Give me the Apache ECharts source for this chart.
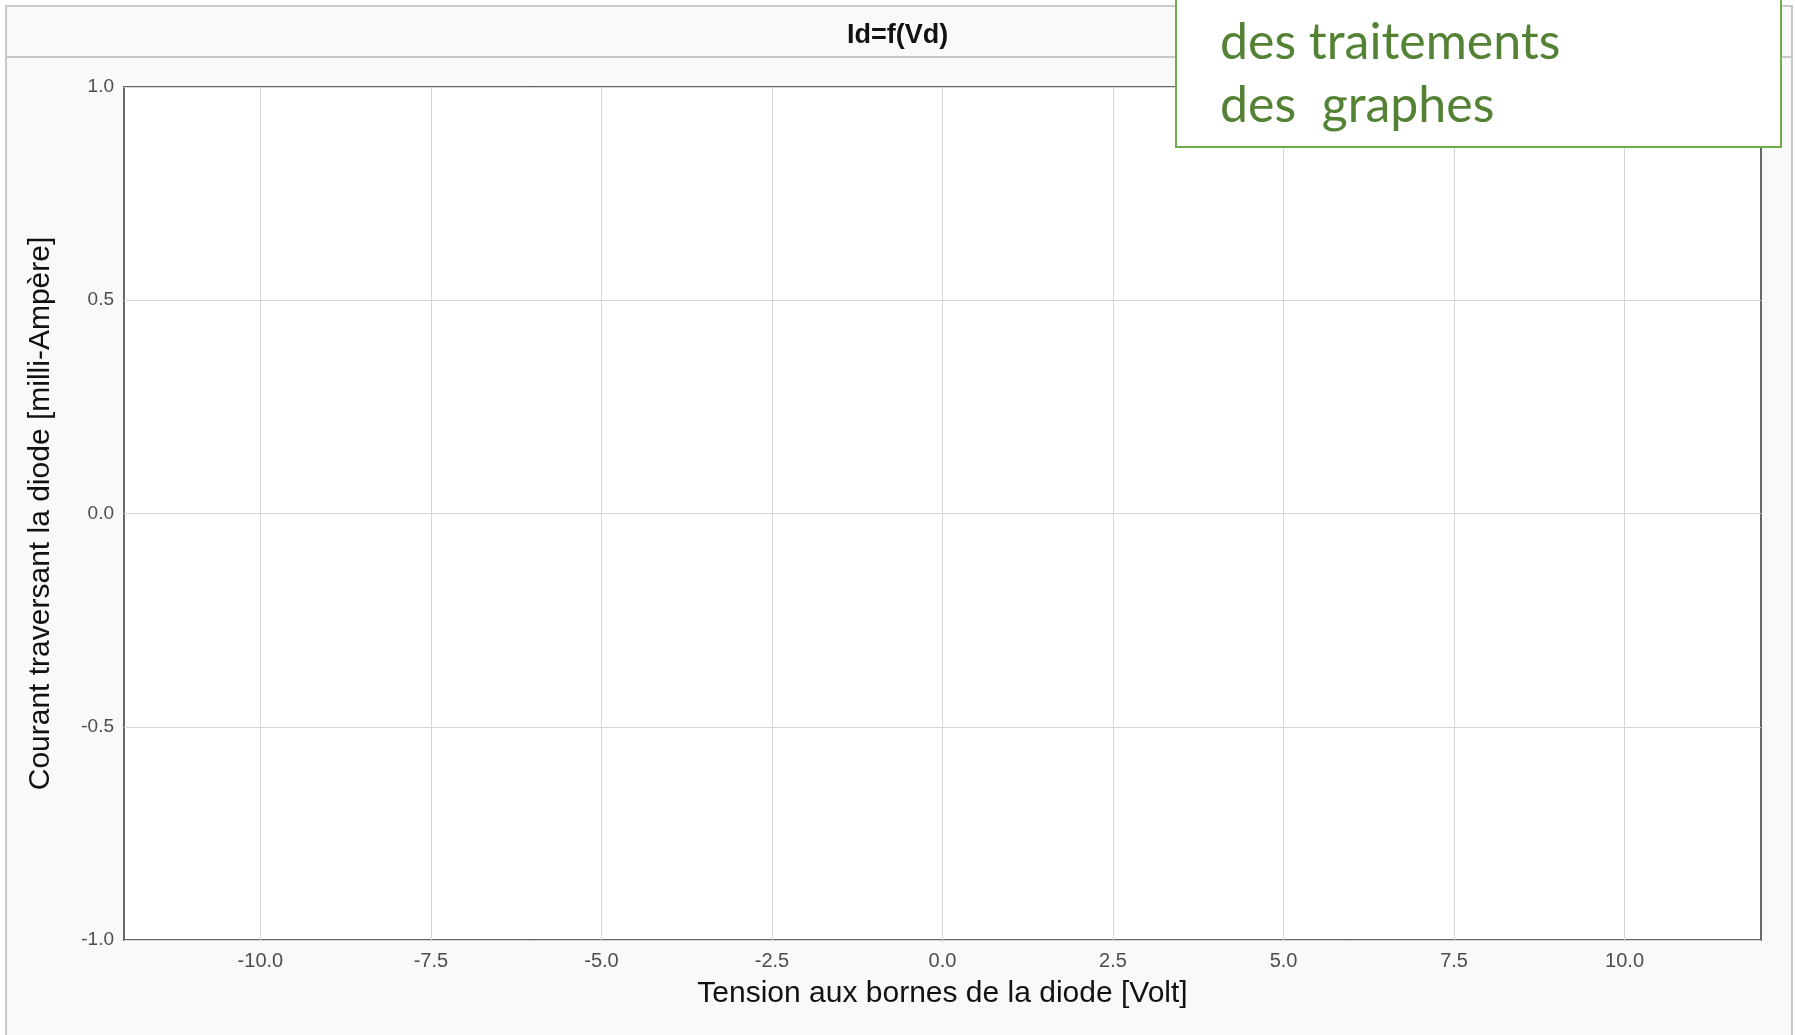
<!DOCTYPE html>
<html>
<head>
<meta charset="utf-8">
<script src="https://cdn.jsdelivr.net/npm/echarts@6/dist/echarts.min.js"></script>
<style>
  html, body { margin: 0; padding: 0; background: #fff; }
  #chart { width: 1795px; height: 1035px; }
</style>
</head>
<body>
<div id="chart"></div>
<script>
// tick positions
const xTicks = [-10, -7.5, -5, -2.5, 0, 2.5, 5, 7.5, 10]
const yTicks = [-1, -0.5, 0, 0.5, 1]
// no measurement is plotted yet: the curve is empty
const vdValues = []
const idValues = []

const chart = echarts.init(document.getElementById('chart'))

const option = {
  backgroundColor: '#fff',
  animation: false,
  title: {
    text: 'Id=f(Vd)',
    left: 'center',
    top: 17,
    textStyle: {
      fontFamily: 'Liberation Sans',
      fontSize: 27,
      fontWeight: 'bold',
      color: '#111'
    }
  },
  grid: {
    left: 124,
    right: 34,
    top: 87,
    bottom: 95,
    show: true,
    backgroundColor: '#fff',
    borderColor: '#666',
    borderWidth: 2
  },
  xAxis: {
    type: 'value',
    min: -12,
    max: 12,
    name: 'Tension aux bornes de la diode [Volt]',
    nameLocation: 'middle',
    nameGap: 39,
    nameTextStyle: { fontFamily: 'Liberation Sans', fontSize: 30, color: '#111' },
    axisLine: { show: false },
    axisTick: { show: false, customValues: xTicks },
    axisLabel: {
      customValues: xTicks,
      margin: 11,
      fontFamily: 'Liberation Sans',
      fontSize: 20,
      color: '#4d4d4d',
      formatter: v => v.toFixed(1)
    },
    splitLine: { show: true, lineStyle: { color: '#d6d6d6', width: 1 } }
  },
  yAxis: {
    type: 'value',
    min: yTicks[0],
    max: yTicks[yTicks.length - 1],
    interval: 0.5,
    name: 'Courant traversant la diode [milli-Ampère]',
    nameLocation: 'middle',
    nameGap: 68,
    nameTextStyle: { fontFamily: 'Liberation Sans', fontSize: 30, color: '#111' },
    axisLine: { show: false },
    axisTick: { show: false },
    axisLabel: {
      margin: 10,
      fontFamily: 'Liberation Sans',
      fontSize: 19,
      color: '#4d4d4d',
      formatter: v => v.toFixed(1)
    },
    splitLine: { show: true, lineStyle: { color: '#d6d6d6', width: 1 } }
  },
  series: [
    {
      name: 'Id',
      type: 'line',
      showSymbol: false,
      data: vdValues.map((v, i) => [v, idValues[i]])
    }
  ],
  graphic: [
    {
      // frame of the plot window
      type: 'rect',
      z: -10,
      shape: { x: 6, y: 6, width: 1786, height: 1060 },
      style: { fill: '#f9f9f9', stroke: '#c8c8c8', lineWidth: 2 }
    },
    {
      type: 'line',
      z: -9,
      shape: { x1: 6, y1: 57, x2: 1792, y2: 57 },
      style: { stroke: '#c8c8c8', lineWidth: 2 }
    },
    {
      // text box pasted on top of the screenshot
      type: 'rect',
      z: 100,
      shape: { x: 1176, y: -10, width: 605, height: 157 },
      style: { fill: '#fff', stroke: '#70ad47', lineWidth: 2 }
    },
    {
      type: 'text',
      z: 101,
      x: 1220,
      y: 43,
      style: {
        text: 'des traitements',
        fontFamily: 'Lato',
        fontSize: 50,
        fill: '#548235',
        verticalAlign: 'middle'
      }
    },
    {
      type: 'text',
      z: 101,
      x: 1220,
      y: 106,
      style: {
        text: 'des  graphes',
        fontFamily: 'Lato',
        fontSize: 50,
        fill: '#548235',
        verticalAlign: 'middle'
      }
    }
  ]
}

chart.setOption(option)
</script>
</body>
</html>
